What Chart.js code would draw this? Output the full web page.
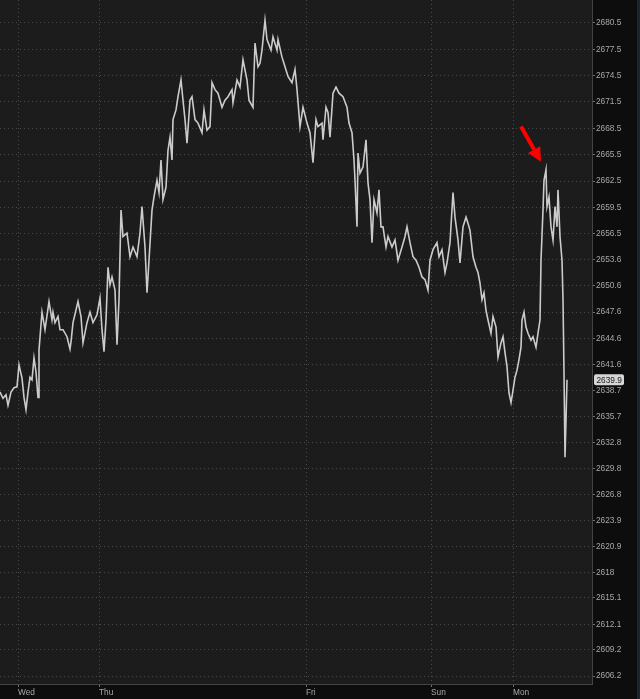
<!DOCTYPE html>
<html>
<head>
<meta charset="utf-8">
<script src="https://cdn.jsdelivr.net/npm/chart.js@4"></script>
<style>
  html, body { margin: 0; padding: 0; background: #0d0d0d; }
  canvas { display: block; }
</style>
</head>
<body>
<canvas id="chart" width="640" height="699"></canvas>
<script>
// bar index along the time axis, and the price at that bar
const bars = [
  0, 3, 6, 8, 11, 14, 17, 19, 22, 24, 26, 28, 30, 32, 34, 36, 38, 39, 42, 45,
  49, 52, 53, 55, 58, 60, 63, 67, 70, 71, 73, 78, 81, 83, 87, 90, 93, 97, 100, 102,
  104, 106, 108, 110, 112, 115, 117, 119, 121, 123, 127, 130, 133, 137, 140, 142, 145, 147, 149, 152,
  154, 157, 159, 161, 163, 166, 168, 170, 172, 173, 176, 178, 181, 183, 185, 187, 190, 192, 195, 198,
  202, 204, 207, 210, 212, 215, 218, 222, 225, 228, 232, 233, 237, 240, 243, 247, 249, 253, 255, 258,
  260, 262, 265, 267, 271, 273, 277, 278, 282, 285, 288, 292, 295, 297, 300, 303, 307, 310, 313, 316,
  318, 322, 323, 326, 328, 330, 333, 336, 339, 343, 347, 349, 352, 354, 355, 357, 358, 360, 363, 366,
  368, 370, 372, 374, 377, 379, 381, 383, 386, 388, 392, 395, 398, 402, 405, 407, 410, 413, 416, 419,
  422, 425, 428, 430, 433, 437, 439, 442, 445, 447, 450, 453, 455, 458, 460, 463, 466, 468, 470, 473,
  476, 478, 480, 482, 484, 486, 488, 491, 493, 496, 498, 501, 503, 505, 507, 509, 511, 513, 515, 517,
  519, 521, 522, 524, 526, 528, 531, 533, 536, 538, 540, 541, 543, 544, 546, 547, 549, 551, 553, 555,
  557, 558, 560, 562, 563, 564, 565, 566, 567
];
const prices = [
  2638.5, 2637.8, 2638.2, 2637.0, 2638.5, 2639.0, 2639.1, 2641.6, 2640.1, 2637.9, 2636.5, 2638.5, 2640.2, 2639.9, 2642.4, 2640.8, 2637.9, 2643.3, 2647.6, 2645.6,
  2648.8, 2646.7, 2647.6, 2646.4, 2647.1, 2645.6, 2645.6, 2644.8, 2643.4, 2644.2, 2646.4, 2648.8, 2647.1, 2644.1, 2646.4, 2647.6, 2646.4, 2647.3, 2649.2, 2645.6,
  2643.1, 2646.7, 2652.7, 2650.7, 2651.6, 2650.1, 2643.9, 2649.0, 2659.2, 2656.2, 2656.6, 2653.9, 2655.0, 2653.9, 2656.6, 2659.6, 2655.0, 2649.8, 2653.5, 2659.2,
  2660.7, 2662.6, 2661.2, 2664.9, 2660.4, 2661.8, 2666.0, 2667.5, 2664.9, 2669.5, 2670.6, 2672.1, 2674.0, 2671.7, 2669.5, 2666.8, 2671.7, 2672.1, 2669.5, 2669.1,
  2668.0, 2670.6, 2668.3, 2668.7, 2673.7, 2672.9, 2672.5, 2670.9, 2671.7, 2672.1, 2672.9, 2671.4, 2674.0, 2673.2, 2676.3, 2674.0, 2671.7, 2670.9, 2678.2, 2675.5,
  2675.9, 2677.4, 2680.8, 2678.6, 2677.4, 2678.9, 2677.4, 2678.6, 2676.6, 2675.5, 2674.4, 2673.7, 2675.2, 2672.9, 2668.7, 2670.9, 2669.1, 2668.0, 2664.6, 2669.5,
  2668.7, 2669.1, 2667.2, 2670.9, 2670.3, 2667.5, 2672.5, 2673.2, 2672.5, 2672.1, 2670.9, 2669.1, 2668.0, 2664.9, 2662.6, 2657.3, 2665.7, 2663.4, 2664.1, 2667.2,
  2662.3, 2660.4, 2655.5, 2660.4, 2658.9, 2661.5, 2657.3, 2657.3, 2655.0, 2656.2, 2655.0, 2655.8, 2653.5, 2655.0, 2656.2, 2657.3, 2655.5, 2653.9, 2653.5, 2652.7,
  2651.6, 2651.3, 2650.1, 2653.5, 2654.7, 2655.5, 2653.9, 2654.7, 2652.1, 2653.2, 2655.5, 2661.2, 2658.4, 2655.8, 2653.2, 2657.3, 2658.4, 2657.7, 2656.9, 2653.9,
  2652.7, 2652.1, 2650.9, 2649.0, 2649.8, 2647.8, 2646.7, 2645.2, 2647.1, 2645.9, 2642.5, 2644.1, 2644.8, 2643.0, 2641.4, 2638.4, 2637.3, 2638.7, 2640.2, 2641.0,
  2642.2, 2643.6, 2646.7, 2647.6, 2645.9, 2645.2, 2644.4, 2644.8, 2643.6, 2645.2, 2646.7, 2653.5, 2659.2, 2662.6, 2663.8, 2659.6, 2660.7, 2657.3, 2655.8, 2659.6,
  2657.3, 2661.5, 2656.2, 2653.5, 2649.0, 2640.7, 2631.1, 2635.3, 2639.9
];

const dayBars = [18, 99, 306, 431, 513];
const dayLabels = ['Wed', 'Thu', 'Fri', 'Sun', 'Mon'];
const priceTicks = [
  2680.5, 2677.5, 2674.5, 2671.5, 2668.5, 2665.5, 2662.5, 2659.5, 2656.5,
  2653.6, 2650.6, 2647.6, 2644.6, 2641.6, 2638.7, 2635.7, 2632.8, 2629.8,
  2626.8, 2623.9, 2620.9, 2618, 2615.1, 2612.1, 2609.2, 2606.2
];
const lastPrice = 2639.9;
// red arrow pointing at the Monday high
const arrowFrom = { x: 521, y: 2668.7 };
const arrowTo = { x: 541, y: 2664.7 };

const FONT = '"Liberation Sans", Arial, sans-serif';

const backdrop = {
  id: 'backdrop',
  beforeDraw(chart) {
    const { ctx, chartArea: a, width, height } = chart;
    ctx.save();
    ctx.fillStyle = '#0d0d0d';
    ctx.fillRect(0, 0, width, height);
    ctx.fillStyle = '#1c1c1c';
    ctx.fillRect(a.left, a.top, a.right - a.left, a.bottom - a.top);
    ctx.fillStyle = '#1b2631';
    ctx.fillRect(width - 3, 0, 3, height);
    ctx.restore();
  }
};

const marks = {
  id: 'marks',
  afterDraw(chart) {
    const { ctx } = chart;
    const xs = chart.scales.x, ys = chart.scales.y;

    // arrow
    const x1 = xs.getPixelForValue(arrowFrom.x), y1 = ys.getPixelForValue(arrowFrom.y);
    const x2 = xs.getPixelForValue(arrowTo.x), y2 = ys.getPixelForValue(arrowTo.y);
    const ang = Math.atan2(y2 - y1, x2 - x1);
    const headLen = 14, headW = 7;
    const bx = x2 - headLen * Math.cos(ang), by = y2 - headLen * Math.sin(ang);
    ctx.save();
    ctx.strokeStyle = '#ff0000';
    ctx.fillStyle = '#ff0000';
    ctx.lineWidth = 4;
    ctx.beginPath();
    ctx.moveTo(x1, y1);
    ctx.lineTo(bx, by);
    ctx.stroke();
    ctx.beginPath();
    ctx.moveTo(x2, y2);
    ctx.lineTo(bx + headW * Math.sin(ang), by - headW * Math.cos(ang));
    ctx.lineTo(bx - headW * Math.sin(ang), by + headW * Math.cos(ang));
    ctx.closePath();
    ctx.fill();

    // last price tag
    const py = ys.getPixelForValue(lastPrice);
    const left = ys.left + 2;
    ctx.fillStyle = '#d6d6d6';
    ctx.beginPath();
    ctx.roundRect(left, py - 5.5, 30, 11, 2);
    ctx.fill();
    ctx.fillStyle = '#1a1a1a';
    ctx.font = '8.3px ' + FONT;
    ctx.textBaseline = 'middle';
    ctx.textAlign = 'left';
    ctx.fillText(String(lastPrice), left + 2.5, py + 0.5);
    ctx.restore();
  }
};

function noEdgePadding(s) {
  s.paddingTop = 0;
  s.paddingBottom = 0;
  s.paddingLeft = 0;
  s.paddingRight = 0;
}

new Chart(document.getElementById('chart'), {
  type: 'line',
  data: {
    datasets: [{
      data: bars.map((b, i) => ({ x: b, y: prices[i] })),
      borderColor: '#cbcbcb',
      borderWidth: 1.6,
      pointRadius: 0,
      tension: 0,
      fill: false
    }]
  },
  options: {
    responsive: false,
    animation: false,
    devicePixelRatio: 1,
    layout: { padding: 0 },
    plugins: { legend: { display: false }, tooltip: { enabled: false } },
    scales: {
      x: {
        type: 'linear',
        position: 'bottom',
        min: 0,
        max: 592,
        afterBuildTicks: s => { s.ticks = dayBars.map(v => ({ value: v })); },
        afterFit: s => { s.height = 15; noEdgePadding(s); },
        ticks: {
          autoSkip: false,
          maxRotation: 0,
          align: 'start',
          padding: 1,
          color: '#a8a8a8',
          font: { family: FONT, size: 8.3 },
          callback: v => dayLabels[dayBars.indexOf(v)]
        },
        grid: {
          color: '#4a4a4a',
          lineWidth: 1,
          tickLength: 3,
          tickColor: '#707070',
          tickBorderDash: []
        },
        border: { display: true, color: '#444444', width: 1, dash: [1, 3] }
      },
      y: {
        type: 'linear',
        position: 'right',
        min: 2605.3,
        max: 2683.1,
        afterBuildTicks: s => { s.ticks = priceTicks.map(v => ({ value: v })); },
        afterFit: s => { s.width = 48; noEdgePadding(s); },
        ticks: {
          autoSkip: false,
          padding: 1,
          color: '#a8a8a8',
          font: { family: FONT, size: 8.3 },
          callback: v => String(v)
        },
        grid: {
          color: '#4a4a4a',
          lineWidth: 1,
          tickLength: 3,
          tickColor: '#707070',
          tickBorderDash: []
        },
        border: { display: true, color: '#444444', width: 1, dash: [1, 3] }
      }
    }
  },
  plugins: [backdrop, marks]
});
</script>
</body>
</html>
